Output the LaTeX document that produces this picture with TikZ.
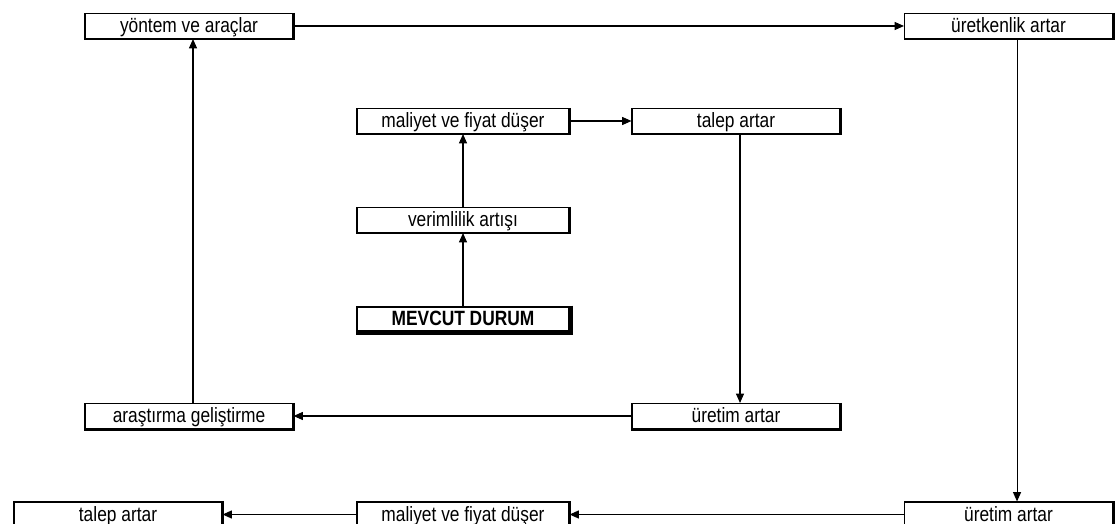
\documentclass[tikz,border=0pt]{standalone}
\usepackage{fontspec}
\setmainfont{Liberation Sans}[FakeStretch=0.84]
\usetikzlibrary{arrows.meta}

\tikzset{
  kutu/.style={draw,line width=0.8pt,minimum width=156pt,minimum height=18.75pt,
    inner sep=0pt,text height=11.5pt,text depth=1.5pt,font=\fontsize{15.5}{17}\selectfont},
  genis/.style={kutu,minimum width=159pt},
  ok/.style={line width=0.8pt,-{Triangle[length=7pt,width=6pt]}}
}

\begin{document}
\begin{tikzpicture}[x=0.75pt,y=-0.75pt]
  \useasboundingbox (0,0) rectangle (1115,524);
  % ust sira
  \node[kutu] (yontem) at (189,26) {yöntem ve araçlar};
  \node[kutu] (uretkenlik) at (1008.5,26) {üretkenlik artar};
  % orta halka
  \node[genis] (maliyet) at (463,121) {maliyet ve fiyat düşer};
  \node[kutu] (talep) at (736,121) {talep artar};
  \node[genis] (verim) at (463,220) {verimlilik artışı};
  \node[genis,line width=2.2pt,minimum height=18pt,font=\fontsize{15.5}{17}\selectfont\bfseries]
    (mevcut) at (463,319) {MEVCUT DURUM};
  \node[kutu] (arge) at (189,416) {araştırma geliştirme};
  \node[kutu] (uretim) at (736,416) {üretim artar};
  % alt sira
  \node[kutu] (talepb) at (118,514.5) {talep artar};
  \node[genis] (maliyetb) at (463,514.5) {maliyet ve fiyat düşer};
  \node[kutu] (uretimb) at (1008.5,514.5) {üretim artar};
  % golge kenarlar
  \foreach \n in {yontem,uretkenlik,maliyet,talep,verim,arge,uretim,talepb,maliyetb,uretimb}
    \draw[line width=2.2pt] (\n.north east) -- (\n.south east) -- (\n.south west);
  \draw[line width=3.2pt] (mevcut.north east) -- (mevcut.south east) -- (mevcut.south west);
  % oklar
  \draw[ok] (mevcut) -- (verim);
  \draw[ok] (verim) -- (maliyet);
  \draw[ok] (maliyet) -- (talep);
  \draw[ok] ([xshift=3pt]talep.south) -- ([xshift=3pt]uretim.north);
  \draw[ok] (uretim) -- (arge);
  \draw[ok] ([xshift=3pt]arge.north) -- ([xshift=3pt]yontem.south);
  \draw[ok] (yontem) -- (uretkenlik);
  \draw[ok] ([xshift=6.4pt]uretkenlik.south) -- ([xshift=6.4pt]uretimb.north);
  \draw[ok] (uretimb) -- (maliyetb);
  \draw[ok] (maliyetb) -- (talepb);
\end{tikzpicture}
\end{document}
